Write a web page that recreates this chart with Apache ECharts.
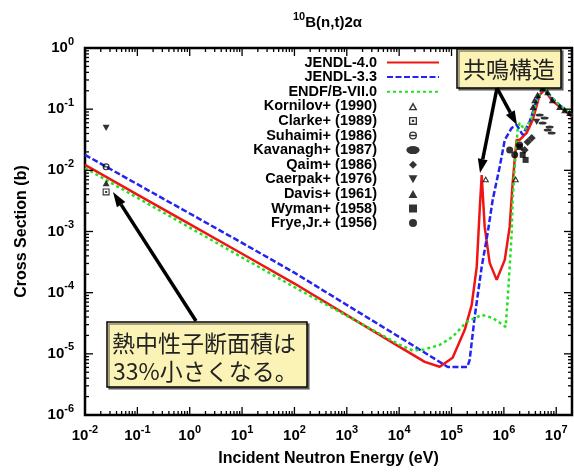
<!DOCTYPE html>
<html><head><meta charset="utf-8">
<script src="https://cdn.jsdelivr.net/npm/echarts@6/dist/echarts.min.js"></script>
<style>html,body{margin:0;padding:0;background:#fff}#c{width:574px;height:472px}</style>
</head><body><div id="c"></div>
<script>
// ---- axis ranges / ticks ----
const X_MIN = 0.01, X_MAX = 2e7;
const Y_MIN = 1e-6, Y_MAX = 1;
const X_MAJOR_EXP = [-2,-1,0,1,2,3,4,5,6,7];
const Y_MAJOR_EXP = [-6,-5,-4,-3,-2,-1,0];
const MINOR_MULT = [2,3,4,5,6,7,8,9];

// ---- evaluated data ----
const E_J40 = [0.01,0.1,1,10,100,1000,1e4,3.08e4,5.96e4,1.05e5,1.79e5,2.43e5,3.03e5,3.45e5,3.77e5,4.3e5,5.36e5,7.29e5,1.04e6,1.29e6,1.47e6,1.61e6,1.75e6,2.0e6,2.72e6,3.55e6,4.82e6,6.0e6,8.17e6,1.06e7,1.58e7,2.0e7];
const S_J40 = [0.0123,4.02e-3,1.32e-3,4.33e-4,1.41e-4,4.3e-5,1.31e-5,7.4e-6,6.14e-6,8.6e-6,2.47e-5,6.3e-5,2.64e-4,2.25e-3,8.4e-3,1.19e-3,3.07e-4,1.62e-4,3.44e-4,1.19e-3,6.2e-3,0.0148,0.0314,0.0314,0.0408,0.0667,0.171,0.206,0.141,0.117,0.090,0.0746];

const E_J33 = [0.01,0.1,1,10,100,1000,1e4,8.5e4,2.0e5,2.22e5,2.77e5,3.77e5,4.91e5,6.11e5,8.32e5,1.04e6,1.41e6,1.75e6,2.29e6,3.1e6,4.23e6,5.5e6,8.17e6,1.27e7,2.0e7];
const S_J33 = [0.0179,5.93e-3,1.97e-3,6.52e-4,2.12e-4,6.3e-5,1.89e-5,6.1e-6,6.1e-6,7.9e-6,4.03e-5,2.64e-4,9.5e-4,3.28e-3,0.0114,0.0314,0.0493,0.0552,0.038,0.0618,0.141,0.222,0.152,0.109,0.0774];

const E_B7 = [0.01,0.1,1,10,100,1000,1e4,1.82e4,3.0e4,5.96e4,1.05e5,1.95e5,3.77e5,6.11e5,1.08e6,1.18e6,1.29e6,1.41e6,1.47e6,1.61e6,1.75e6,1.83e6,2.0e6,2.49e6,3.39e6,4.42e6,5.5e6,7.48e6,1.16e7,2.0e7];
const S_B7 = [0.0109,3.56e-3,1.16e-3,3.76e-4,1.23e-4,4.18e-5,1.42e-5,1.13e-5,1.18e-5,1.4e-5,1.9e-5,3.33e-5,4.34e-5,3.87e-5,2.76e-5,7.6e-5,2.64e-4,9.5e-4,3.28e-3,0.0114,0.028,0.0457,0.0596,0.0457,0.0718,0.152,0.222,0.171,0.117,0.0804];

// ---- experimental data [E, sigma] ----
const KORNILOV = [[4.5e5,7.2e-3],[1.68e6,7.2e-3]];
const CLARKE   = [[0.0253,4.43e-3]];
const SUHAIMI  = [[0.0253,0.0114]];
const KAVANAGH = [[4.82e6,0.0804],[6.0e6,0.0718],[5.5e6,0.0596],[6.86e6,0.0457],[7.48e6,0.0512],[8.17e6,0.0408]];
const QAIM     = [[2.49e6,0.0216],[2.84e6,0.0291],[3.4e6,0.0338]];
const CAERPAK  = [[0.0253,0.0493],[4.23e6,0.0618]];
const DAVIS    = [[0.0253,6.2e-3],[3.6e6,0.109],[3.87e6,0.141],[4.4e6,0.171],[5.5e6,0.222],[6.86e6,0.19],[8.4e6,0.141],[1.16e7,0.109],[1.45e7,0.097],[1.8e7,0.0867]];
const WYMAN    = [[2.0e6,0.024],[2.29e6,0.0179],[2.6e6,0.0148]];
const FRYE     = [[1.29e6,0.0216],[1.61e6,0.0179],[2.0e6,0.026]];

const NAMES = ['JENDL-4.0','JENDL-3.3','ENDF/B-VII.0','Kornilov+ (1990)','Clarke+ (1989)','Suhaimi+ (1986)','Kavanagh+ (1987)','Qaim+ (1986)','Caerpak+ (1976)','Davis+ (1961)','Wyman+ (1958)','Frye,Jr.+ (1956)'];

const FONT = '"Liberation Sans", Arial, sans-serif';
const CJK = '"Noto Sans CJK JP", sans-serif';

function pair(xs, ys){ return xs.map((x,i)=>[x, ys[i]]); }
function supLabel(v){
  const e = Math.log10(v), r = Math.round(e);
  if (Math.abs(e - r) > 1e-6) return '';
  return '{b|10}{s|' + r + '}';
}
const RICH = {
  b: {fontFamily: FONT, fontWeight: 'bold', fontSize: 15, lineHeight: 24, color: '#000'},
  s: {fontFamily: FONT, fontWeight: 'bold', fontSize: 11, lineHeight: 12, verticalAlign: 'top', color: '#000'}
};

// tick positions
const xTicks = [], yTicks = [];
X_MAJOR_EXP.forEach(e => {
  const b = Math.pow(10, e);
  xTicks.push([b, 1, Y_MIN]);
  MINOR_MULT.forEach(m => { if (m*b < X_MAX) xTicks.push([m*b, 0, Y_MIN]); });
});
Y_MAJOR_EXP.forEach(e => {
  const b = Math.pow(10, e);
  yTicks.push([X_MIN, b, 1]);
  if (e < 0) MINOR_MULT.forEach(m => yTicks.push([X_MIN, m*b, 0]));
});

const SYM = {
  openTri: 'path://M5,0L10,9H0Z M5,3.2L2.6,7.6H7.4Z',
  boxDot: 'path://M0,0H10V10H0Z M1.6,1.6V8.4H8.4V1.6Z M3.6,3.6H6.4V6.4H3.6Z',
  thetaCircle: 'path://M5,0A5,5 0 1,1 5,10A5,5 0 1,1 5,0Z M5,1.6A3.4,3.4 0 1,0 5,8.4A3.4,3.4 0 1,0 5,1.6Z M1.6,4.2H8.4V5.8H1.6Z',
  ellipse: 'path://M0,3A5,3 0 1,1 10,3A5,3 0 1,1 0,3Z',
  downTri: 'path://M0,0H10L5,9Z',
  upTri: 'path://M5,0L10,9H0Z',
  diamond: 'path://M5,0L10,5L5,10L0,5Z',
  square: 'path://M0,0H10V10H0Z',
  disc: 'path://M5,0A5,5 0 1,1 5,10A5,5 0 1,1 5,0Z'
};

function scatter(name, data, symbol, size){
  return {type:'scatter', name, data, symbol, symbolSize: size, symbolKeepAspect: true, z: 5,
    itemStyle: {color: '#000'}};
}

const chart = echarts.init(document.getElementById('c'), null, {renderer: 'canvas'});

function arrow(tail, tip, w, headL, headW){
  const dx = tip[0]-tail[0], dy = tip[1]-tail[1];
  const len = Math.hypot(dx, dy), ux = dx/len, uy = dy/len;
  const bx = tip[0]-ux*headL, by = tip[1]-uy*headL;
  const px = -uy, py = ux;
  return [
    {type:'line', z: 50, shape:{x1:tail[0], y1:tail[1], x2:bx, y2:by}, style:{stroke:'#000', lineWidth:w}},
    {type:'polygon', z: 50, shape:{points:[tip,[bx+px*headW/2, by+py*headW/2],[bx-px*headW/2, by-py*headW/2]]}, style:{fill:'#000'}}
  ];
}

const hiddenSym = {color: 'rgba(0,0,0,0)', borderWidth: 0, opacity: 0};
const legendData = NAMES.map((n, i) => i < 3 ? {name: n, itemStyle: hiddenSym} : {name: n});

const option = {
  animation: false,
  backgroundColor: '#fff',
  title: {
    text: '{s|10}{b|B(n,t)2α}', left: 288, top: 6,
    textStyle: {rich: {
      b: {fontFamily: FONT, fontWeight: 'bold', fontSize: 15, lineHeight: 24, color: '#000'},
      s: {fontFamily: FONT, fontWeight: 'bold', fontSize: 11, lineHeight: 12, verticalAlign: 'top', color: '#000'}
    }}
  },
  grid: {left: 85, right: 2, top: 48, bottom: 57, show: true, borderColor: '#000', borderWidth: 2.5, backgroundColor: 'transparent'},
  xAxis: {
    type: 'log', logBase: 10, min: X_MIN, max: X_MAX,
    axisLine: {show: false}, axisTick: {show: false}, splitLine: {show: false},
    axisLabel: {formatter: supLabel, rich: RICH, margin: 9, showMaxLabel: false, showMinLabel: true},
    name: 'Incident Neutron Energy (eV)', nameLocation: 'middle', nameGap: 36,
    nameTextStyle: {fontFamily: FONT, fontWeight: 'bold', fontSize: 16, color: '#000'}
  },
  yAxis: {
    type: 'log', logBase: 10, min: Y_MIN, max: Y_MAX,
    axisLine: {show: false}, axisTick: {show: false}, splitLine: {show: false},
    axisLabel: {formatter: supLabel, rich: RICH, margin: 11, showMaxLabel: true, showMinLabel: true},
    name: 'Cross Section (b)', nameLocation: 'middle', nameGap: 55,
    nameTextStyle: {fontFamily: FONT, fontWeight: 'bold', fontSize: 16, color: '#000'}
  },
  legend: {
    orient: 'vertical', align: 'right', right: 134, top: 55, padding: 0,
    itemWidth: 52, itemHeight: 8, itemGap: -0.4, selectedMode: false,
    textStyle: {fontFamily: FONT, fontWeight: 'bold', fontSize: 14.5, lineHeight: 12, color: '#000', padding: [0,5,0,0]},
    data: legendData
  },
  series: [
    {type:'line', name: NAMES[0], data: pair(E_J40, S_J40), showSymbol:false, symbol:'none', z: 3,
      lineStyle:{color:'#f01414', width:2.5}, itemStyle:{color:'#f01414'}},
    {type:'line', name: NAMES[1], data: pair(E_J33, S_J33), showSymbol:false, symbol:'none', z: 3,
      lineStyle:{color:'#2424f0', width:2.5, type:[6,2.5]}, itemStyle:{color:'#2424f0'}},
    {type:'line', name: NAMES[2], data: pair(E_B7, S_B7), showSymbol:false, symbol:'none', z: 3,
      lineStyle:{color:'#22e022', width:2.5, type:[3,3]}, itemStyle:{color:'#22e022'}},
    scatter(NAMES[3], KORNILOV, SYM.openTri, 7),
    scatter(NAMES[4], CLARKE, SYM.boxDot, 7),
    scatter(NAMES[5], SUHAIMI, SYM.thetaCircle, 7),
    scatter(NAMES[6], KAVANAGH, SYM.ellipse, [8,5]),
    scatter(NAMES[7], QAIM, SYM.diamond, 8),
    scatter(NAMES[8], CAERPAK, SYM.downTri, 7),
    scatter(NAMES[9], DAVIS, SYM.upTri, 7),
    scatter(NAMES[10], WYMAN, SYM.square, 6),
    scatter(NAMES[11], FRYE, SYM.disc, 7),
    {type:'custom', name:'xticks', silent:true, z: 10, data: xTicks, encode:{x:0, y:2},
      renderItem: function(params, api){
        const v = api.value(0), major = api.value(1);
        const pb = api.coord([v, Y_MIN]), pt = api.coord([v, Y_MAX]);
        const L = major ? 8 : 4;
        return {type:'group', children:[
          {type:'line', shape:{x1:pb[0], y1:pb[1], x2:pb[0], y2:pb[1]-L}, style:{stroke:'#000', lineWidth:1.3}},
          {type:'line', shape:{x1:pt[0], y1:pt[1], x2:pt[0], y2:pt[1]+L}, style:{stroke:'#000', lineWidth:1.3}}
        ]};
      }},
    {type:'custom', name:'yticks', silent:true, z: 10, data: yTicks, encode:{x:0, y:1},
      renderItem: function(params, api){
        const v = api.value(1), major = api.value(2);
        const pl = api.coord([X_MIN, v]), pr = api.coord([X_MAX, v]);
        const L = major ? 8 : 4;
        return {type:'group', children:[
          {type:'line', shape:{x1:pl[0], y1:pl[1], x2:pl[0]+L, y2:pl[1]}, style:{stroke:'#000', lineWidth:1.3}},
          {type:'line', shape:{x1:pr[0], y1:pr[1], x2:pr[0]-L, y2:pr[1]}, style:{stroke:'#000', lineWidth:1.3}}
        ]};
      }}
  ],
  graphic: [
    {type:'rect', z: 40, shape:{x:457, y:49, width:104, height:39},
      style:{fill:'#fbf3b6', stroke:'#000', lineWidth:1.5, shadowOffsetX:2, shadowOffsetY:2, shadowColor:'rgba(0,0,0,0.45)'}},
    {type:'text', z: 41, style:{text:'共鳴構造', x:509, y:69, font:'23px ' + CJK, fill:'#222', align:'center', verticalAlign:'middle'}},
    ...arrow([497,88],[480,173],3.5,14,10),
    ...arrow([497,88],[517,125],3.5,14,10),
    {type:'rect', z: 40, shape:{x:107, y:322, width:200, height:65},
      style:{fill:'#fbf3b6', stroke:'#000', lineWidth:1.5, shadowOffsetX:2, shadowOffsetY:2, shadowColor:'rgba(0,0,0,0.45)'}},
    {type:'text', z: 41, style:{text:'熱中性子断面積は', x:112, y:343, font:'23px ' + CJK, fill:'#222', align:'left', verticalAlign:'middle'}},
    {type:'text', z: 41, style:{text:'33%小さくなる。', x:113, y:371, font:'23px ' + CJK, fill:'#222', align:'left', verticalAlign:'middle'}},
    ...arrow([196,321],[113,192],3.5,15,10)
  ]
};
chart.setOption(option);
</script>
</body></html>
